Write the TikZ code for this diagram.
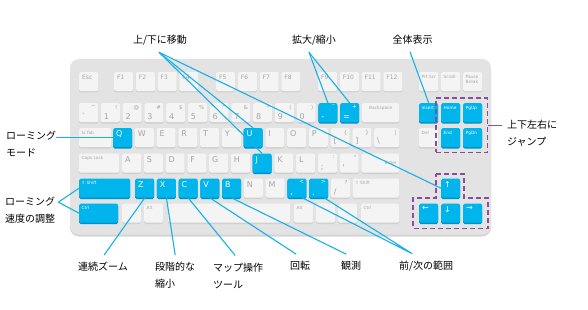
\documentclass[tikz,border=0pt]{standalone}
\usepackage{fontspec}
\setmainfont{Noto Sans CJK JP}
\newfontfamily\kbfont{DejaVu Sans}
\usepackage{tikz}
\usetikzlibrary{fit}
\definecolor{kbbody}{RGB}{227,227,227}
\definecolor{kbshade}{RGB}{212,212,212}
\definecolor{keyface}{RGB}{244,244,244}
\definecolor{keyshade}{RGB}{208,208,208}
\definecolor{keyink}{RGB}{165,165,165}
\definecolor{keyblue}{RGB}{0,180,236}
\definecolor{keyblueshade}{RGB}{0,146,198}
\definecolor{linkcyan}{RGB}{22,178,230}
\definecolor{grppurple}{RGB}{140,76,156}

\tikzset{
  keybase/.style={rounded corners=1.5pt, minimum width=19pt, minimum height=19pt,
    inner sep=0pt, anchor=north west},
  key/.style={keybase, fill=keyface, preaction={fill=keyshade, transform canvas={yshift=-1.3pt}}},
  hot/.style={keybase, fill=keyblue, preaction={fill=keyblueshade, transform canvas={yshift=-1.3pt}}},
  ktkey/.style={anchor=north west, inner xsep=3pt, inner ysep=2.5pt, text=keyink,
    font=\kbfont\fontsize{8}{9}\selectfont},
  kthot/.style={ktkey, text=white},
  fn/.style={ktkey, font=\kbfont\fontsize{6}{7}\selectfont},
  tsym/.style={anchor=north east, inner xsep=2.5pt, inner ysep=2pt, font=\kbfont\fontsize{5.5}{6}\selectfont},
  bsym/.style={anchor=south west, inner xsep=3pt, inner ysep=2.5pt, font=\kbfont\fontsize{8}{9}\selectfont},
  word/.style={anchor=north west, inner xsep=2.5pt, inner ysep=3pt, align=left,
    font=\kbfont\fontsize{4.3}{4.8}\selectfont},
  ink/.style={text=keyink},
  wht/.style={text=white},
  lbl/.style={font=\fontsize{10}{17}\selectfont, inner sep=0pt, align=left},
  link/.style={draw=linkcyan, line width=1.1pt},
  grp/.style={draw=grppurple, line width=1.8pt, dash pattern=on 5pt off 3pt},
}

\begin{document}
\begin{tikzpicture}[x=1pt, y=-1pt]
  \def\kp{21.75}                              % key pitch
  \useasboundingbox (0,0) rectangle (588,310);
  % ---- keyboard body ----
  \fill[kbshade, rounded corners=9pt] (70,61) rectangle (491,236.5);
  \fill[kbbody, rounded corners=9pt] (70,59) rectangle (491,234.5);
  % ---- function row ----
  \node[key, label={[fn]north west:Esc}] (kEsc) at (79,72) {};
  \foreach \n/\x in {1/114,2/135.75,3/157.5,4/179.25,5/216,6/237.75,7/259.5,8/281.25,
                     9/318,10/339.75,11/361.5,12/383.25}
    \node[key, label={[fn]north west:F\n}] (kF\n) at (\x,72) {};
  \node[key, label={[word,ink]north west:Prt Scr}] (kPrt) at (419,72) {};
  \node[key, label={[word,ink]north west:Scroll}] (kScr) at (441,72) {};
  \node[key, label={[word,ink]north west:Pause\\Break}] (kPause) at (463,72) {};
  % ---- number row ----
  \foreach \s/\n [count=\i from 0] in {\textasciitilde/\textasciigrave, !/1, @/2, \#/3, \$/4,
                                       \%/5, \^{}/6, \&/7, */8, {(}/9, {)}/0}
    \node[key, label={[tsym,ink]north east:\s}, label={[bsym,ink]south west:\n}] (kn\i) at (79+\kp*\i,103) {};
  \node[hot, label={[tsym,wht]north east:–}, label={[bsym,wht]south west:-}] (kMinus) at (318.25,103) {};
  \node[hot, label={[tsym,wht]north east:+}, label={[bsym,wht]south west:=}] (kEq) at (340,103) {};
  \node[key, minimum width=37pt, label={[word,ink,anchor=north]north:Backspace}] (kBksp) at (362,103) {};
  \node[hot, label={[word,wht]north west:Insert}] (kIns) at (419,103) {};
  \node[hot, label={[word,wht]north west:Home}] (kHome) at (441,103) {};
  \node[hot, label={[word,wht]north west:PgUp}] (kPgUp) at (463,103) {};
  % ---- top letter row ----
  \node[key, minimum width=32pt, label={[word,ink]north west:⇆ Tab}] (kTab) at (79,128) {};
  \foreach \k/\s [count=\i from 0] in {Q/hot, W/key, E/key, R/key, T/key, Y/key, U/hot, I/key, O/key, P/key}
    \node[\s, label={[kt\s]north west:\k}] (k\k) at (113+\kp*\i,128) {};
  \node[key, label={[tsym,ink]north east:\{}, label={[bsym,ink]south west:{[}}] (kLbr) at (330.5,128) {};
  \node[key, label={[tsym,ink]north east:\}}, label={[bsym,ink]south west:{]}}] (kRbr) at (352.25,128) {};
  \node[key, minimum width=25pt, label={[tsym,ink]north east:|}, label={[bsym,ink]south west:\textbackslash}] (kBsl) at (374,128) {};
  \node[key, label={[word,ink]north west:Del}] (kDel) at (419,128) {};
  \node[hot, label={[word,wht]north west:End}] (kEnd) at (441,128) {};
  \node[hot, label={[word,wht]north west:PgDn}] (kPgDn) at (463,128) {};
  % ---- home row ----
  \node[key, minimum width=40pt, label={[word,ink]north west:Caps Lock}] (kCaps) at (79,153.5) {};
  \foreach \k/\s [count=\i from 0] in {A/key, S/key, D/key, F/key, G/key, H/key, J/hot, K/key, L/key}
    \node[\s, label={[kt\s]north west:\k}] (k\k) at (122+\kp*\i,153.5) {};
  \node[key, label={[tsym,ink]north east:{:}}, label={[bsym,ink]south west:;}] (kSemi) at (317.75,153.5) {};
  \node[key, label={[tsym,ink]north east:\textquotedbl}, label={[bsym,ink]south west:\textquotesingle}] (kQuote) at (339.5,153.5) {};
  \node[key, minimum width=37.75pt, label={[word,ink,anchor=east]east:Enter}] (kEnter) at (361.25,153.5) {};
  % ---- bottom letter row ----
  \node[hot, minimum width=51pt, label={[word,wht]north west:⇧ Shift}] (kLShift) at (79,178.5) {};
  \foreach \k/\s [count=\i from 0] in {Z/hot, X/hot, C/hot, V/hot, B/hot, N/key, M/key}
    \node[\s, label={[kt\s]north west:\k}] (k\k) at (135+\kp*\i,178.5) {};
  \node[hot, label={[tsym,wht]north east:<}, label={[bsym,wht]south west:{,}}] (kComma) at (287.25,178.5) {};
  \node[hot, label={[tsym,wht]north east:>}, label={[bsym,wht]south west:.}] (kPeriod) at (309,178.5) {};
  \node[key, label={[tsym,ink]north east:?}, label={[bsym,ink]south west:/}] (kSlash) at (330.75,178.5) {};
  \node[key, minimum width=46.5pt, label={[word,ink]north west:⇧ Shift}] (kRShift) at (352.5,178.5) {};
  % ---- space row ----
  \node[hot, minimum width=39pt, label={[word,wht]north west:Ctrl}] (kLCtrl) at (79,203.5) {};
  \node[key] (kLWin) at (122,203.5) {};
  \node[key, label={[word,ink]north west:Alt}] (kLAlt) at (144,203.5) {};
  \node[key, minimum width=122pt] (kSpace) at (168,203.5) {};
  \node[key, label={[word,ink]north west:Alt}] (kRAlt) at (294,203.5) {};
  \node[key] (kRWin) at (316,203.5) {};
  \node[key] (kMenu) at (338,203.5) {};
  \node[key, minimum width=38pt, label={[word,ink]north west:Ctrl}] (kRCtrl) at (361,203.5) {};
  % arrow keys
  \node[hot, label={[kthot]north west:↑}] (kUp) at (441,178.5) {};
  \node[hot, label={[kthot]north west:←}] (kLeft) at (419,203.5) {};
  \node[hot, label={[kthot]north west:↓}] (kDown) at (441,203.5) {};
  \node[hot, label={[kthot]north west:→}] (kRight) at (463,203.5) {};
  % ---- dashed key groups ----
  \node[grp, fit=(kHome)(kPgDn), inner xsep=5pt, inner ysep=5pt] (navGrp) {};
  \draw[grp] (436,174) -- (464,174) -- (464,198) -- (488,198) -- (488,228.5)
    -- (413,228.5) -- (413,198) -- (436,198) -- cycle;
  % ---- labels ----
  \node[lbl] (moveUD) at (160,40) {上/下に移動};
  \node[lbl] (zoomIO) at (314,40) {拡大/縮小};
  \node[lbl] (fullView) at (412.5,40) {全体表示};
  \node[lbl, anchor=west] (roamMode) at (6,144.5) {ローミング\\モード};
  \node[lbl, anchor=west] (roamSpeed) at (5,210.5) {ローミング\\速度の調整};
  \node[lbl, anchor=west] (zoomCont) at (78,267) {連続ズーム};
  \node[lbl, anchor=west] (zoomStep) at (155,275.5) {段階的な\\縮小};
  \node[lbl, anchor=west] (mapTool) at (213,275.5) {マップ操作\\ツール};
  \node[lbl, anchor=west] (rotate) at (290,266) {回転};
  \node[lbl, anchor=west] (observe) at (341,266) {観測};
  \node[lbl, anchor=west] (range) at (399,266) {前/次の範囲};
  \node[lbl, anchor=west] (jump) at (507,133.5) {上下左右に\\ジャンプ};
  \coordinate (jumpTip) at ([shift={(-5,6)}]jump.north west);
  % ---- connectors ----
  \draw[link] ([shift={(-1,7)}]moveUD.south) -- (kU.north);
  \draw[link] ([shift={(-1,7)}]moveUD.south) -- (kJ.north);
  \draw[link] ([shift={(-1,7)}]moveUD.south) -- (kUp.west);
  \draw[link] ([shift={(-5,7)}]zoomIO.south) -- (kMinus.north);
  \draw[link] ([shift={(-5,7)}]zoomIO.south) -- (kEq.north);
  \draw[link] ([shift={(-2.5,7)}]fullView.south) -- (kIns.north);
  \draw[link] (kQ.west -| roamMode.east) -- (kQ.west);
  \draw[link] (kLShift.west) -- ([shift={(3,5)}]roamSpeed.north east) -- (kLCtrl.west);
  \draw[link] ([shift={(1,-7)}]zoomCont.north) -- (kZ.south);
  \draw[link] ([shift={(0,-7)}]zoomStep.north) -- (kX.south);
  \draw[link] ([shift={(-3,-7)}]mapTool.north) -- (kC.south);
  \draw[link] ([shift={(-4,-7)}]rotate.north) -- (kV.south);
  \draw[link] ([shift={(-5,-7)}]observe.north) -- (kB.south);
  \draw[link] (kComma.-60) -- ([shift={(-14,-7)}]range.north) -- (kPeriod.-60);
  \draw[grppurple, line width=1.1pt] (navGrp.east) -- (navGrp.east -| jumpTip);
\end{tikzpicture}
\end{document}
